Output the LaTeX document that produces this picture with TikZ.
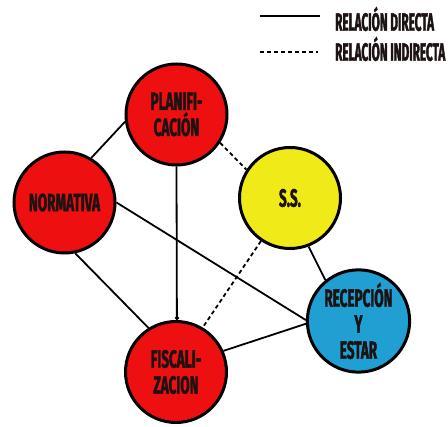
\documentclass[tikz,border=0pt]{standalone}
\usepackage{fontspec}
\usetikzlibrary{arrows.meta}
\newfontfamily\tagfont[FakeStretch=0.54, FakeBold=1.5]{Fira Sans}
\newfontfamily\keyfont[FakeStretch=0.47, FakeBold=1.5]{Fira Sans}
\definecolor{redfill}{RGB}{238,16,16}
\definecolor{yellowfill}{RGB}{240,234,24}
\definecolor{bluefill}{RGB}{32,160,210}
\definecolor{inkdark}{RGB}{28,18,18}
\tikzset{
  topic/.style={circle, draw=black, line width=3pt, minimum size=101pt,
    inner sep=0pt, align=center, text=inkdark,
    font=\tagfont\bfseries\fontsize{25}{26}\selectfont},
  direct/.style={line width=1.8pt, black},
  indirect/.style={line width=1.8pt, black, dash pattern=on 4pt off 3pt},
  keytext/.style={anchor=west, inner sep=0pt, text=inkdark,
    font=\keyfont\bfseries\fontsize{25}{27}\selectfont}
}
\begin{document}
\begin{tikzpicture}[x=1pt, y=-1pt]
\useasboundingbox (0,0) rectangle (448,427);

% legend
\coordinate (ka) at (260,16);
\coordinate (kb) at (320,16);
\coordinate (kc) at (260,52);
\coordinate (kd) at (318,52);
\draw[direct] (ka) -- (kb);
\draw[indirect] (kc) -- (kd);
\node[keytext] (kdirect) at (335,19) {RELACIÓN DIRECTA};
\node[keytext] (kindirect) at (335,49) {RELACIÓN INDIRECTA};

% topics
\node[topic, fill=redfill] (plan) at (176.5,114.5) {PLANIFI-\\CACIÓN};
\node[topic, fill=redfill] (norm) at (64.5,202.5) {NORMATIVA};
\node[topic, fill=yellowfill] (ss) at (290,198) {S.S.};
\node[topic, fill=bluefill] (rec) at (358.5,321) {RECEPCIÓN\\Y\\ESTAR};
\node[topic, fill=redfill] (fisc) at (176,372) {FISCALI-\\ZACION};

% relations
\draw[direct] (norm.59) -- (plan.188);
\draw[direct, -{Circle[length=4pt]}] (plan.270) -- (fisc.89);
\draw[indirect] (plan.-33) -- (ss.147);
\draw[direct] (norm.-78) -- (fisc.122);
\draw[direct] (norm.0) -- (rec.179);
\draw[direct] (fisc.24) -- (rec.183);
\draw[direct] (ss.-69) -- (rec.129);
\draw[indirect] (ss.-124) -- (fisc.59);
\end{tikzpicture}
\end{document}
